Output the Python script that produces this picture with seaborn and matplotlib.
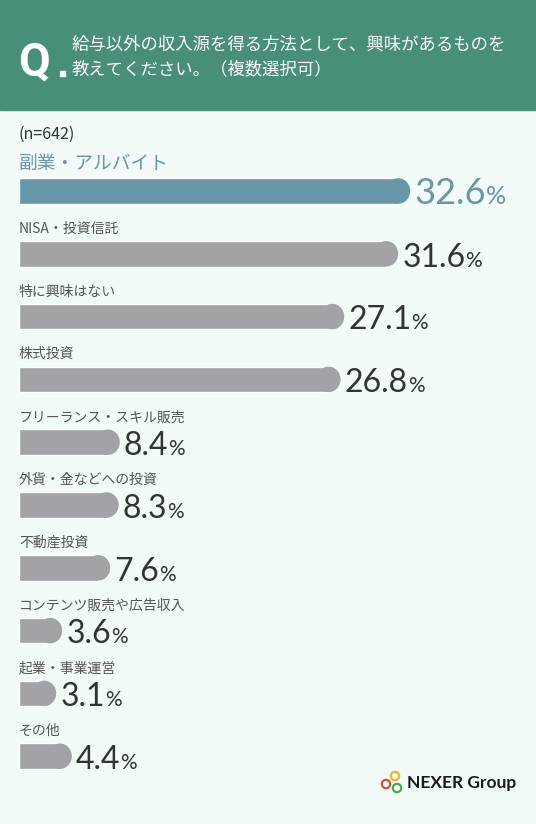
import matplotlib
matplotlib.use("Agg")
import matplotlib.pyplot as plt
from matplotlib.patches import Rectangle, Ellipse, Circle
from matplotlib.transforms import IdentityTransform
import seaborn as sns

# survey answers (n=642), percent
categories = ["副業・アルバイト", "NISA・投資信託", "特に興味はない", "株式投資",
              "フリーランス・スキル販売", "外貨・金などへの投資", "不動産投資",
              "コンテンツ販売や広告収入", "起業・事業運営", "その他"]
values = [32.6, 31.6, 27.1, 26.8, 8.4, 8.3, 7.6, 3.6, 3.1, 4.4]
value_labels = ["32.6", "31.6", "27.1", "26.8", "8.4", "8.3", "7.6", "3.6", "3.1", "4.4"]

question_1 = "給与以外の収入源を得る方法として、興味があるものを"
question_2 = "教えてください。（複数選択可）"
sample_note = "(n=642)"

W, H = 536, 824
header_col = "#488f79"
bg_col = "#f2fbf8"
top_col = "#6698a8"
bar_col = "#a2a3a7"

sns.set_theme(style="white")
plt.rcParams["font.family"] = ["Noto Sans CJK JP", "DejaVu Sans"]

fig = plt.figure(figsize=(W / 100, H / 100), dpi=100)
fig.patch.set_facecolor(bg_col)


def fx(px):
    return px / W


def fy(px):
    return 1 - px / H


# header band
fig.patches.append(Rectangle((0, fy(110)), 1, 110 / H, transform=fig.transFigure,
                             color=header_col, zorder=0))
fig.text(fx(18), fy(76), "Q", fontsize=33, weight="bold", family="Roboto",
         color="white", va="baseline")
fig.patches.append(Rectangle((fx(60), fy(76)), 5 / W, 5 / H, transform=fig.transFigure,
                             color="white"))
fig.text(fx(72), fy(45), question_1, fontsize=12.5, color="white", va="center")
fig.text(fx(72), fy(69), question_2, fontsize=12.5, color="white", va="center")
fig.text(fx(18), fy(134), sample_note, fontsize=11.5, color="#333333", va="center")

# bar axes: 12 px per %, 62.8 px per row
px_per = 12.0
row_px = 62.8
y_top, y_bot = -1.0, 9.8
ax_top_px = 191 + row_px * y_top
ax_bot_px = 191 + row_px * y_bot
ax = fig.add_axes([fx(19), fy(ax_bot_px), (W - 19) / W, (ax_bot_px - ax_top_px) / H])
ax.set_facecolor("none")

palette = [top_col] + [bar_col] * (len(categories) - 1)
bar_h = 0.406
sns.barplot(x=values, y=categories, hue=categories, palette=palette, legend=False,
            orient="h", width=bar_h, saturation=1, ax=ax)
ax.set_xlim(0, (W - 19) / px_per)
ax.set_ylim(y_bot, y_top)
ax.axis("off")

# rounded right ends
rx = 12 / px_per
for i, p in enumerate(ax.patches[:len(values)]):
    w = p.get_width()
    y0 = p.get_y()
    h = p.get_height()
    p.set_width(w - rx)
    ax.add_patch(Ellipse((w - rx, y0 + h / 2), 2 * rx, h, color=p.get_facecolor(),
                         lw=0))

for i, (cat, v, lab) in enumerate(zip(categories, values, value_labels)):
    first = i == 0
    ax.text(0, i - (0.446 if first else 0.40), cat,
            fontsize=13.5 if first else 10,
            color=top_col if first else "#555555", va="center", ha="left")
    num = ax.annotate(lab, xy=(v, i + bar_h / 2), xytext=(3, 0),
                      textcoords="offset points", va="baseline", ha="left",
                      fontsize=26 if first else 23, family="Lato",
                      color=top_col if first else "#333333")
    ax.annotate("%", xy=(1, i + bar_h / 2), xycoords=(num, "data"), xytext=(0, 0),
                textcoords="offset points", va="baseline", ha="left",
                fontsize=18 if first else 15, family="Lato",
                color=top_col if first else "#333333")

# logo
for cx, cy, c in [(395, 776, "#f2b418"), (386, 784, "#e0452c"), (397, 788, "#3aa845")]:
    fig.patches.append(Circle((cx, H - cy), 4.2, transform=IdentityTransform(),
                              fill=False, ec=c, lw=1.5))
fig.text(fx(407), fy(783), "NEXER Group", fontsize=12.5, weight="bold", family="Lato",
         color="#1a1a1a", va="center")

fig.savefig("out.png", dpi=100, facecolor=bg_col)
